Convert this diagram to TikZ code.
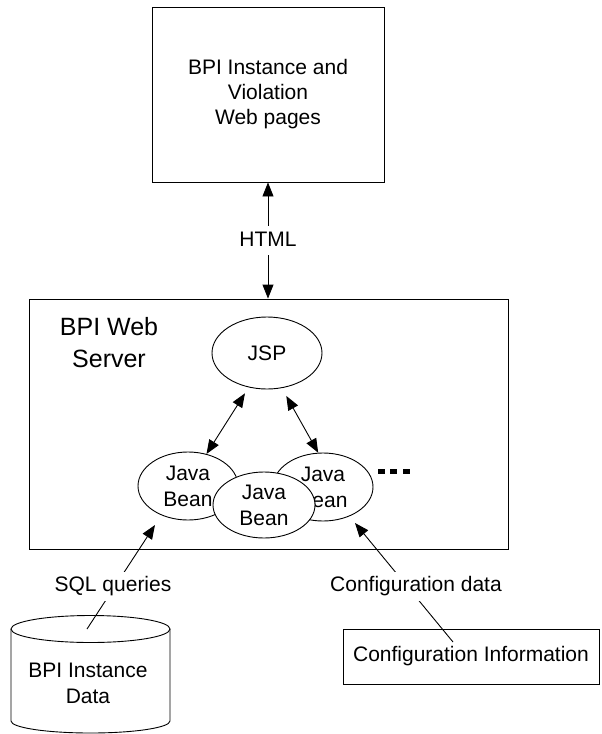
\documentclass[tikz,border=0pt]{standalone}
\usepackage{fontspec}
\setmainfont{Liberation Sans}
\usetikzlibrary{arrows.meta,shapes.geometric}
\begin{document}
\begin{tikzpicture}[x=1pt,y=-1pt,
  line width=0.9pt,
  txt/.style={font=\fontsize{21}{25}\selectfont},
  box/.style={draw, rectangle, inner sep=0pt, align=center, txt},
  bean/.style={draw, ellipse, inner sep=0pt, align=center, font=\fontsize{21}{26}\selectfont, minimum width=100pt, minimum height=68pt},
  lbl/.style={fill=white, inner sep=5pt, text height=15pt, text depth=4pt, txt},
  arr/.style={-{Triangle[length=14pt,width=11pt]}},
  darr/.style={{Triangle[length=14pt,width=11pt]}-{Triangle[length=14pt,width=11pt]}},
]
\useasboundingbox (0,0) rectangle (602,734);

% top box
\node[box, minimum width=232pt, minimum height=175pt] (web) at (268,94.5) {BPI Instance and\\Violation\\Web pages};

% server box
\node[draw, rectangle, inner sep=0pt, minimum width=479pt, minimum height=250pt] (server) at (268.5,424) {};
\node[font=\fontsize{25}{32}\selectfont, align=center, inner sep=0pt] (srvlbl) at (109,343) {BPI Web\\Server};

% JSP and beans
\node[bean, minimum width=110pt, minimum height=72pt] (jsp) at (267,353) {JSP};
\node[bean] (bean1) at (188,486) {Java\\Bean};
\node[bean] (bean3) at (323,487) {Java\\Bean};
\node[bean, fill=white, minimum width=102pt, minimum height=66pt] (bean2) at (264,505) {Java\\Bean};

% dots
\fill (378,469) rectangle (385,474);
\fill (390,469) rectangle (397,474);
\fill (403,469) rectangle (410,474);

% HTML connector
\draw[darr] (web.south) -- (web.south |- server.north) node[lbl, midway] (html) {HTML};

% JSP <-> beans
\draw[darr, shorten <=7pt] (jsp.242) -- (bean1.60);
\draw[darr, shorten <=9pt] (jsp.293) -- (bean3.98);

% database cylinder
\draw (11,629) -- (11,721) arc[start angle=180, end angle=360, x radius=79.5pt, y radius=12pt] -- (170,629);
\draw (90.5,629) ellipse [x radius=79.5pt, y radius=13.5pt];
\node[align=center, inner sep=0pt, font=\fontsize{21}{26}\selectfont] (db) at (88,683) {BPI Instance\\Data};
\coordinate (dbtop) at (87,629);
\coordinate (sqltip) at (155,525);
\draw[arr] (dbtop) -- (sqltip);
\node[lbl] (sql) at (113,586) {SQL queries};

% configuration
\node[box, minimum width=256pt, minimum height=55pt] (cfg) at (471,656.5) {Configuration Information};
\coordinate (cfgend) at (453,642);
\coordinate (cfgtip) at (355,523);
\draw[arr] (cfgend) -- (cfgtip);
\node[lbl] (cfgdata) at (416,586) {Configuration data};
\end{tikzpicture}
\end{document}
